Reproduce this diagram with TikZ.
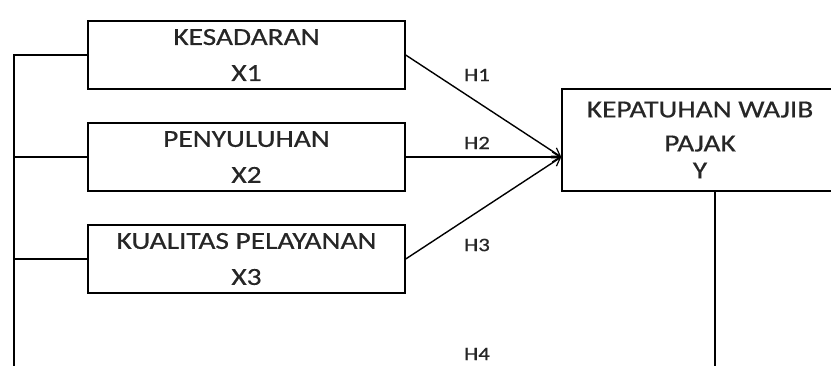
\documentclass[tikz,border=0pt]{standalone}
\usepackage{fontspec}
\setmainfont{Carlito}[FakeStretch=1.2,FakeBold=0.6]
\usetikzlibrary{arrows.meta}
\begin{document}
\begin{tikzpicture}[x=1pt,y=-1pt,
  line width=1.4pt,
  varbox/.style={draw, rectangle, inner sep=0pt, minimum width=317pt, minimum height=68pt,
    align=center, font={\fontsize{24.5}{36}\selectfont}, text=black!85},
  hlabel/.style={font={\fontsize{19}{20}\selectfont}, text=black!85},
  link/.style={-{Straight Barb[length=8pt,width=10pt,line width=1.2pt]}}]
\useasboundingbox (0,0) rectangle (831,365);
% independent variables
\node[varbox] (b1) at (246.5,55) {KESADARAN\\X1};
\node[varbox] (b2) at (246.5,157) {PENYULUHAN\\X2};
\node[varbox] (b3) at (246.5,259) {KUALITAS PELAYANAN\\X3};
% dependent variable
\node[draw, rectangle, inner sep=0pt, minimum width=276pt, minimum height=102pt,
  align=center, font={\fontsize{24.5}{34}\selectfont}, text=black!85] (y) at (700,140)
  {KEPATUHAN WAJIB\\PAJAK\\[-7pt]Y};
% hypotheses arrows, all meeting at the level of X2
\coordinate (tip) at (b2.east -| y.west);
\draw[link] (b1.east) -- (tip);
\draw[link] (b2.east) -- (tip);
\draw[link] (b3.east) -- (tip);
\node[hlabel] (h1) at (477,75) {H1};
\node[hlabel] (h2) at (477,143) {H2};
\node[hlabel] (h3) at (477,245) {H3};
\node[hlabel] (h4) at (477,354) {H4};
% simultaneous path frame
\coordinate (ltop) at (14,55);
\coordinate (lbot) at (14,366);
\coordinate (ybot) at (715,366);
\draw (b1.west) -- (ltop) -- (lbot);
\draw (b2.west) -- (b2.west -| ltop);
\draw (b3.west) -- (b3.west -| ltop);
\draw (y.south -| ybot) -- (ybot);
\end{tikzpicture}
\end{document}
